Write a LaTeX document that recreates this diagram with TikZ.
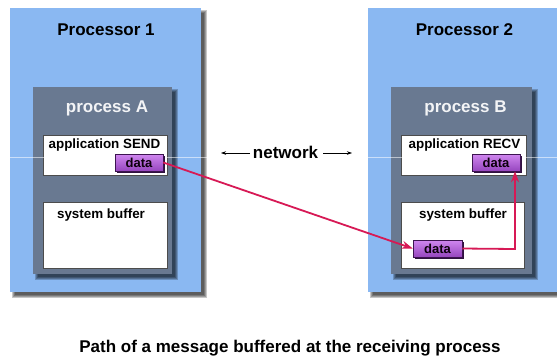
\documentclass[tikz,border=0pt]{standalone}
\usepackage{fontspec}
\setmainfont{Liberation Sans}
\usetikzlibrary{arrows.meta}

\definecolor{procblue}{RGB}{138,184,242}
\definecolor{slate}{RGB}{105,121,145}
\definecolor{datatop}{RGB}{208,135,240}
\definecolor{databot}{RGB}{150,70,190}
\definecolor{dataedge}{RGB}{60,20,80}
\definecolor{msgred}{RGB}{215,25,85}

% soft drop shadow behind a rectangle given by two corners
\newcommand{\softshadow}[4]{%
  \foreach \r in {2,1,0,-1}{%
    \fill[black,opacity=0.22] (#1+4-\r,#2+4-\r) rectangle (#3+4+\r,#4+4+\r);}%
}

\tikzset{
  proctitle/.style={font=\bfseries\fontsize{17}{19}\selectfont, anchor=base, inner sep=0pt},
  processtitle/.style={font=\bfseries\fontsize{17}{19}\selectfont, text=white!92!slate, anchor=base, inner sep=0pt},
  boxlabel/.style={font=\bfseries\fontsize{13.4}{15}\selectfont, anchor=base, inner sep=0pt},
  whitebox/.style={fill=white, draw=black!70, line width=0.6pt},
  databox/.style={draw=dataedge, line width=0.5pt, top color=datatop, bottom color=databot,
    minimum width=48pt, minimum height=17pt, inner sep=0pt,
    font=\bfseries\fontsize{13}{15}\selectfont, text=black!90!violet},
  msg/.style={draw=msgred, line width=1.8pt, -{Stealth[length=11pt,width=8pt]}},
  netarrow/.style={draw=black, line width=0.6pt, -{Stealth[length=5pt,width=3.5pt]}},
}

\begin{document}
\begin{tikzpicture}[x=1pt,y=-1pt]
\useasboundingbox (0,0) rectangle (557,357);
\fill[white] (0,0) rectangle (557,357);

% processors
\softshadow{10}{8}{201}{292}
\fill[procblue] (10,8) rectangle (201,292);
\softshadow{368}{8}{570}{292}
\fill[procblue] (368,8) rectangle (570,292);

% processes
\softshadow{33}{87}{172}{274}
\fill[slate] (33,87) rectangle (172,274);
\softshadow{391}{87}{532}{274}
\fill[slate] (391,87) rectangle (532,274);

% application and system buffer areas
\draw[whitebox] (43,135) rectangle (167,175);
\draw[whitebox] (43,202) rectangle (167,268);
\draw[whitebox] (401,135) rectangle (526,175);
\draw[whitebox] (401,202) rectangle (524,268);

% faint scan line across the picture
\draw[white, opacity=0.55, line width=0.7pt] (0,157) -- (557,157);

% titles
\node[proctitle] (p1) at (106,35) {Processor 1};
\node[proctitle] (p2) at (464.5,35) {Processor 2};
\node[processtitle] (pa) at (107,112) {process A};
\node[processtitle] (pb) at (465.5,112) {process B};
\node[boxlabel] (sendl) at (104.5,148) {application SEND};
\node[boxlabel] (recvl) at (464.5,148) {application RECV};
\node[boxlabel] (bufa) at (101,218) {system buffer};
\node[boxlabel] (bufb) at (463,218) {system buffer};

% data blocks with a dark lower edge
\fill[dataedge!80!black] (117,156) rectangle (165,173);
\node[databox] (dA) at (139,162.5) {data};
\fill[dataedge!80!black] (474,156) rectangle (522,173);
\node[databox] (dR) at (496,162.5) {data};
\fill[dataedge!80!black] (415,242) rectangle (464,259);
\node[databox, minimum width=49pt] (dS) at (437.5,248.5) {data};

% network label
\node[proctitle, anchor=base] (net) at (285.5,158) {network};
\coordinate (nl1) at (250,153);
\coordinate (nl2) at (221,153);
\coordinate (nr1) at (323,153);
\coordinate (nr2) at (352,153);
\draw[netarrow] (nl1) -- (nl2);
\draw[netarrow] (nr1) -- (nr2);

% message path
\draw[msg] (dA.east) -- (dS.west);
\coordinate (turn) at (515,249);
\draw[msg] (dS.east) -- (turn) -- (turn |- dR.south);

% caption
\node[proctitle] (cap) at (290,352) {Path of a message buffered at the receiving process};
\end{tikzpicture}
\end{document}
